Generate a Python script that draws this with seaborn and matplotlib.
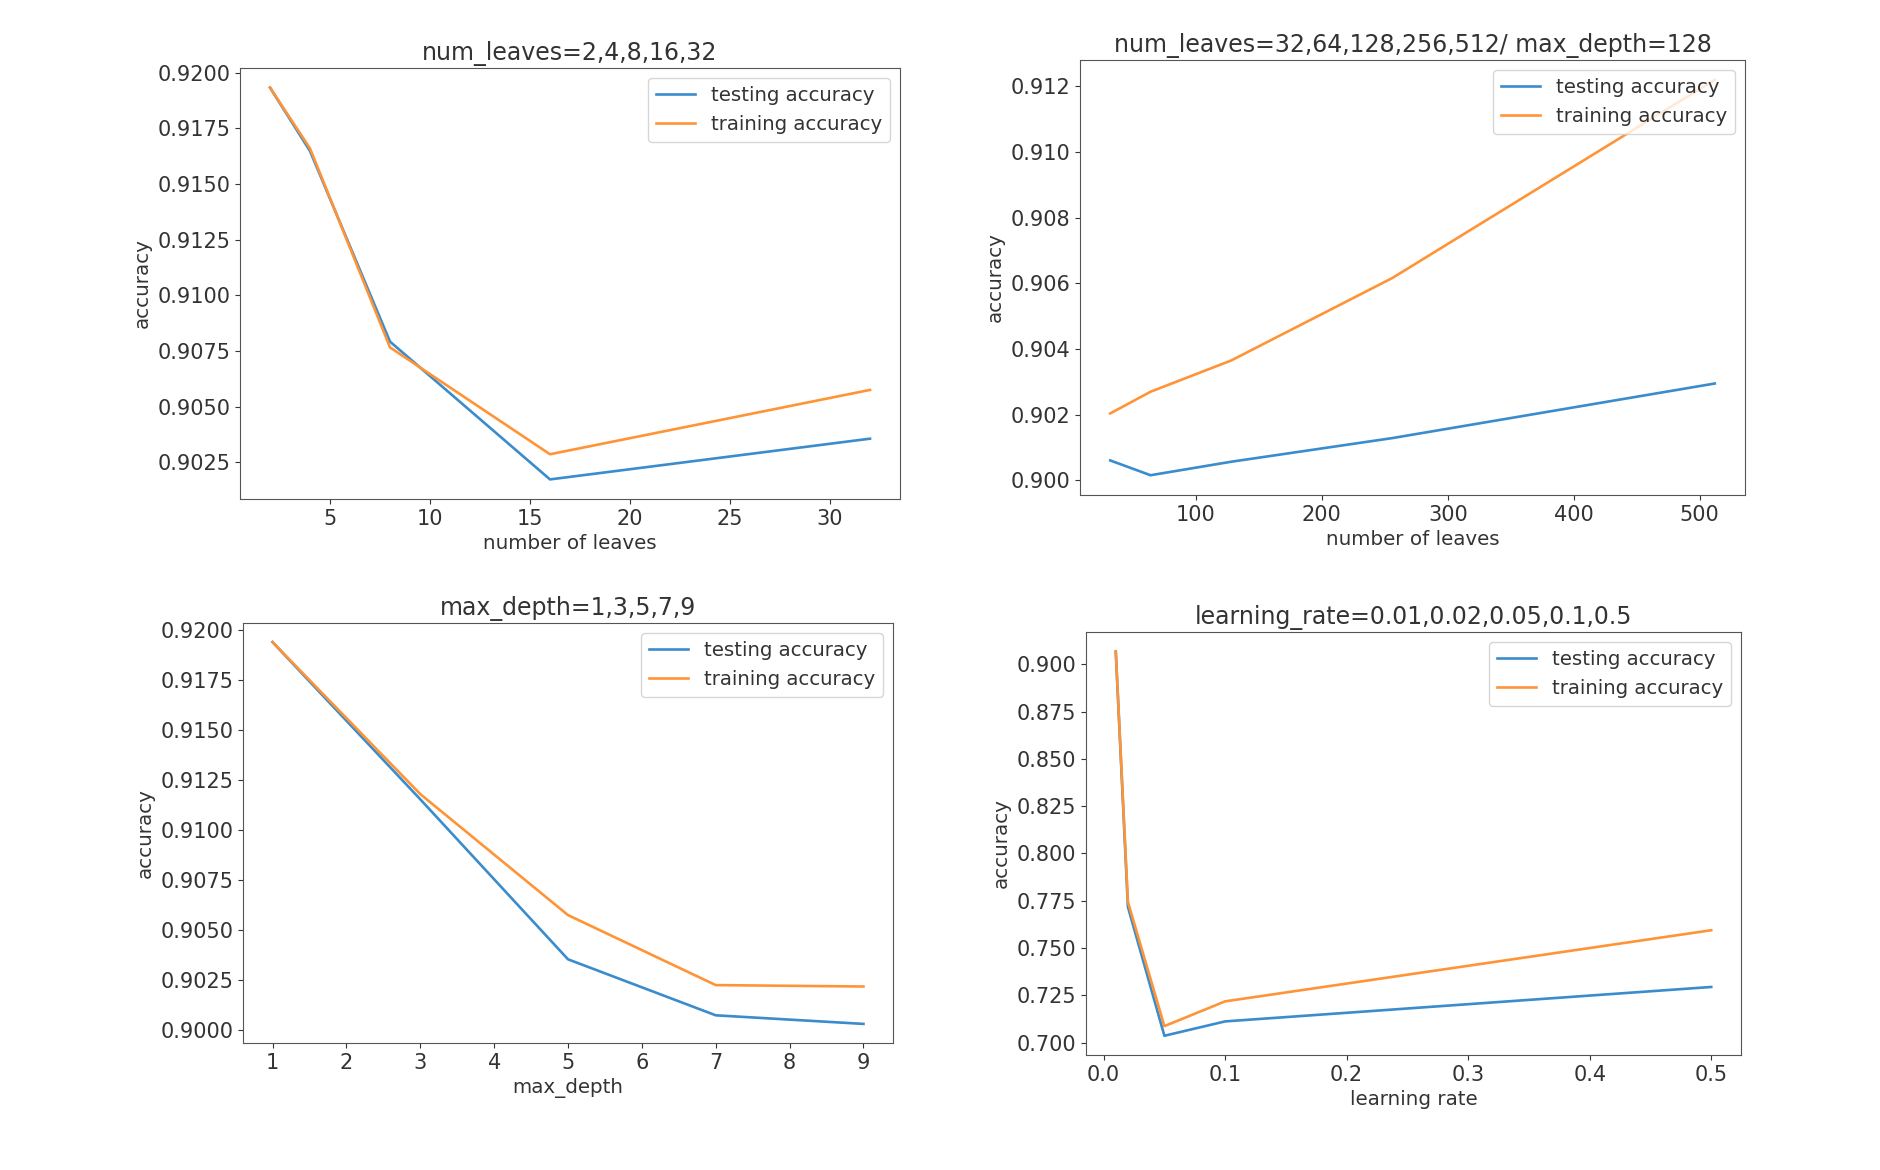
import pandas as pd
import matplotlib
matplotlib.use("Agg")
import matplotlib.pyplot as plt
import seaborn as sns

# num_leaves small
leaves_small = [2, 4, 8, 16, 32]
leaves_small_test = [0.91933, 0.91648, 0.90792, 0.90173, 0.90356]
leaves_small_train = [0.91933, 0.91660, 0.90766, 0.90286, 0.90575]

# num_leaves large, max_depth=128
leaves_big = [32, 64, 128, 256, 512]
leaves_big_test = [0.90061, 0.90016, 0.90057, 0.90129, 0.90295]
leaves_big_train = [0.90204, 0.90270, 0.90365, 0.90616, 0.91219]

# max_depth
depths = [1, 3, 5, 7, 9]
depth_test = [0.91940, 0.91154, 0.90354, 0.90074, 0.90031]
depth_train = [0.91940, 0.91180, 0.90575, 0.90225, 0.90218]

# learning rate
rates = [0.01, 0.02, 0.05, 0.1, 0.5]
rate_test = [0.9065, 0.7717, 0.7036, 0.7112, 0.7294]
rate_train = [0.9069, 0.7744, 0.7087, 0.7218, 0.7594]

panels = [
    ("num_leaves=2,4,8,16,32", "number of leaves", leaves_small, leaves_small_test, leaves_small_train, "%.4f"),
    ("num_leaves=32,64,128,256,512/ max_depth=128", "number of leaves", leaves_big, leaves_big_test, leaves_big_train, "%.3f"),
    ("max_depth=1,3,5,7,9", "max_depth", depths, depth_test, depth_train, "%.4f"),
    ("learning_rate=0.01,0.02,0.05,0.1,0.5", "learning rate", rates, rate_test, rate_train, "%.3f"),
]

# axes boxes in pixels (left, right, top, bottom)
W, H = 1880, 1170
boxes = [
    (240, 900, 68, 499),
    (1080, 1745, 60, 495),
    (243, 893, 623, 1043),
    (1086, 1741, 632, 1055),
]

text_col = "#333333"
plt.rcParams.update({
    "text.color": text_col,
    "axes.labelcolor": text_col,
    "xtick.color": text_col,
    "ytick.color": text_col,
    "axes.edgecolor": "#555555",
})
fig = plt.figure(figsize=(18.8, 11.7), dpi=100)

for (title, xlabel, x, test, train, fmt), (l, r, t, b) in zip(panels, boxes):
    ax = fig.add_axes([l / W, 1 - b / H, (r - l) / W, (b - t) / H])
    df = pd.DataFrame({"x": x, "test": test, "train": train})
    sns.lineplot(data=df, x="x", y="test", ax=ax, color="#3a8ccc",
                 linewidth=1.9, label="testing accuracy")
    sns.lineplot(data=df, x="x", y="train", ax=ax, color="#ff9437",
                 linewidth=1.9, label="training accuracy")
    ax.set_title(title, fontsize=17)
    ax.set_xlabel(xlabel, fontsize=14.3)
    ax.set_ylabel("accuracy", fontsize=14.3)
    ax.tick_params(labelsize=15)
    ax.legend(loc="upper right", fontsize=14.2)
    if xlabel == "max_depth":
        ax.set_xticks(range(1, 10))
    ax.yaxis.set_major_formatter(matplotlib.ticker.FormatStrFormatter(fmt))

fig.savefig("out.png", dpi=100)
